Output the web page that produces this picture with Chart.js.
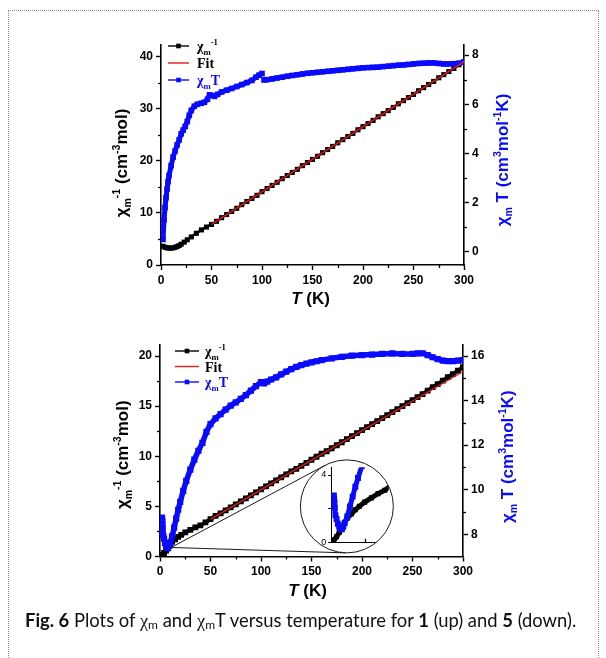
<!DOCTYPE html>
<html>
<head>
<meta charset="utf-8">
<script src="https://cdn.jsdelivr.net/npm/chart.js@4.4.1/dist/chart.umd.min.js"></script>
<style>
  html, body { margin: 0; padding: 0; background: #fff; }
  #page { position: relative; width: 606px; height: 658px; overflow: hidden; background: #fff; }
  #frame { position: absolute; left: 8px; top: 10px; width: 589px; height: 720px; border: 1px dotted #8a8a8a; }
  #c1 { position: absolute; left: 0; top: 0; }
  #c2 { position: absolute; left: 0; top: 310px; }
  #insetWrap { position: absolute; left: 300px; top: 459px; width: 93px; height: 93px; border-radius: 50%; overflow: hidden; }
  #cap { position: absolute; left: 25px; top: 609px; font-family: Lato, "Open Sans", sans-serif; font-size: 18.4px; color: #111; white-space: nowrap; }
  #cap .g { font-family: "Liberation Serif", "DejaVu Serif", serif; }
  #cap sub { font-size: 12px; vertical-align: -2px; }
</style>
</head>
<body>
<div id="page">
  <div id="frame"></div>
  <canvas id="c1" width="606" height="310"></canvas>
  <canvas id="c2" width="606" height="300"></canvas>
  <div id="insetWrap"><canvas id="c3" width="93" height="93"></canvas></div>
  <div id="cap"><b>Fig. 6</b> Plots of <span class="g">χ</span><sub>m</sub> and <span class="g">χ</span><sub>m</sub>T versus temperature for <b>1</b> (up) and <b>5</b> (down).</div>
</div>
<script>
// ---- data: complex 1 (upper plot) ----
const topInvT = [2,4,6,8,10,12,14,16,18,20,23,26,30,35,40,45,50,55,60,65,70,75,80,85,90,95,100,105,110,115,120,125,130,135,140,145,150,155,160,165,170,175,180,185,190,195,200,205,210,215,220,225,230,235,240,245,250,255,260,265,270,275,280,285,290,295,300];
const topInvChi = [3.6,3.4,3.3,3.25,3.25,3.3,3.4,3.55,3.75,4.0,4.4,4.85,5.4,6.1,6.75,7.3,7.8,8.4,9.1,9.7,10.3,10.9,11.6,12.2,12.8,13.4,14.1,14.7,15.3,15.9,16.6,17.2,17.8,18.4,19.1,19.7,20.3,20.9,21.6,22.2,22.8,23.5,24.1,24.7,25.3,26.0,26.6,27.2,27.8,28.5,29.1,29.7,30.3,31.0,31.6,32.2,32.8,33.5,34.1,34.7,35.3,36.0,36.6,37.2,37.8,38.5,39.1];
const topFitT = [50, 300];
const topFitVal = [7.8, 39.1];
const topChiTT = [2,3,4,5,6,7,8,10,12,14,16,18,20,22,24,26,28,30,33,36,40,43,46,48,50,53,56,60,65,70,75,80,85,90,94,97,100,101,102,105,110,115,120,125,130,135,140,145,150,155,160,165,170,175,180,185,190,195,200,205,210,215,220,225,230,235,240,245,250,255,260,265,270,275,280,285,290,295,300];
const topChiTVal = [0.5,1.3,1.8,2.2,2.55,2.85,3.1,3.5,3.85,4.1,4.35,4.55,4.8,4.95,5.1,5.3,5.55,5.75,5.92,6.0,6.04,6.08,6.2,6.38,6.36,6.32,6.4,6.5,6.57,6.64,6.72,6.8,6.88,6.97,7.1,7.18,7.25,null,6.99,7.0,7.03,7.07,7.1,7.14,7.17,7.2,7.23,7.26,7.28,7.3,7.32,7.34,7.36,7.38,7.4,7.42,7.44,7.46,7.48,7.49,7.5,7.51,7.53,7.55,7.57,7.59,7.6,7.62,7.64,7.66,7.67,7.68,7.68,7.66,7.64,7.64,7.65,7.67,7.72];

// ---- data: complex 5 (lower plot) ----
const botInvT = [2,4,6,8,10,12,15,18,21,25,30,35,40,45,50,55,60,65,70,75,80,85,90,95,100,105,110,115,120,125,130,135,140,145,150,155,160,165,170,175,180,185,190,195,200,205,210,215,220,225,230,235,240,245,250,255,260,265,270,275,280,285,290,295,300];
const botInvChi = [0.15,0.35,0.6,0.9,1.2,1.45,1.7,1.95,2.15,2.4,2.65,2.9,3.1,3.4,3.72,4.05,4.3,4.6,4.9,5.2,5.5,5.8,6.1,6.4,6.7,7.0,7.3,7.6,7.9,8.2,8.5,8.75,9.05,9.35,9.65,9.95,10.25,10.5,10.8,11.1,11.4,11.7,12.0,12.3,12.6,12.9,13.2,13.5,13.8,14.1,14.4,14.7,15.0,15.3,15.6,15.9,16.2,16.55,16.9,17.2,17.55,17.9,18.2,18.55,18.9];
const botFitT = [50, 300];
const botFitVal = [3.7, 18.45];
const botChiTT = [2,2.2,2.4,2.7,3.2,4,5,6,7,8,9,10,12,14,16,18,20,23,26,30,34,38,42,46,50,55,60,65,70,75,80,85,90,95,100,103,106,110,115,120,125,130,135,140,145,150,155,160,170,180,190,200,210,220,230,240,250,255,260,265,270,275,280,285,290,295,300];
const botChiTVal = [8.75,8.6,8.45,8.25,7.95,7.8,7.6,7.48,7.4,7.38,7.48,7.62,7.9,8.3,8.7,9.1,9.45,9.95,10.4,10.9,11.35,11.75,12.1,12.6,12.95,13.2,13.4,13.6,13.78,13.92,14.08,14.25,14.45,14.65,14.83,14.78,14.85,14.95,15.05,15.18,15.3,15.42,15.52,15.6,15.66,15.72,15.77,15.82,15.9,15.97,16.02,16.05,16.07,16.1,16.12,16.1,16.1,16.12,16.13,16.05,15.95,15.87,15.8,15.78,15.78,15.8,15.82];

// ---- ticks ----
const tTicks = [0, 50, 100, 150, 200, 250, 300];
const tMinor = [25, 75, 125, 175, 225, 275];
const topLeftTicks = [0, 10, 20, 30, 40];
const topLeftMinor = [5, 15, 25, 35];
const topRightTicks = [0, 2, 4, 6, 8];
const topRightMinor = [1, 3, 5, 7];
const botLeftTicks = [0, 5, 10, 15, 20];
const botLeftMinor = [2.5, 7.5, 12.5, 17.5];
const botRightTicks = [8, 10, 12, 14, 16];
const botRightMinor = [9, 11, 13, 15];
const insetLeftTicks = [0, 2, 4];
const insetTTicks = [25];
const insetTMax = 45;

const SANS = '"Liberation Sans", Arial, sans-serif';
const SERIF = '"Liberation Serif", "Times New Roman", serif';
const BLACK = '#000000';
const RED = '#e3191c';
const BLUE = '#0a0aff';

const invLabel = [['χ', 'n'], ['m', 'b'], ['-1', 'p']];
const fitLabel = [['Fit', 'n']];
const chiTLabel = [['χ', 'n'], ['m', 'b'], ['T', 'n']];
const leftTitle = [['χ', 'n'], ['m', 'b'], ['-1', 'p'], [' (cm', 'n'], ['-3', 'p'], ['mol)', 'n']];
const rightTitle = [['χ', 'n'], ['m', 'b'], [' T (cm', 'n'], ['3', 'p'], ['mol', 'n'], ['-1', 'p'], ['K)', 'n']];
const xTitle = [['T', 'i'], [' (K)', 'n']];

Chart.defaults.font.family = SANS;

const pts = (xs, ys) => xs.map((x, i) => ({ x, y: ys[i] }));

// text with sub/superscripts, centred on (x, y)
function drawRich(ctx, parts, x, y, fs, family, color, angle) {
  ctx.save();
  ctx.translate(x, y);
  if (angle) ctx.rotate(angle);
  const segs = parts.map(([t, m]) => {
    const size = (m === 'b' || m === 'p') ? fs * 0.62 : fs;
    const font = (m === 'i' ? 'italic ' : '') + 'bold ' + size + 'px ' + family;
    ctx.font = font;
    return { t, m, font, w: ctx.measureText(t).width };
  });
  const total = segs.reduce((s, g) => s + g.w, 0);
  let cx = -total / 2;
  ctx.fillStyle = color;
  ctx.textAlign = 'left';
  ctx.textBaseline = 'alphabetic';
  segs.forEach(g => {
    ctx.font = g.font;
    const dy = g.m === 'b' ? fs * 0.25 : g.m === 'p' ? -fs * 0.42 : 0;
    ctx.fillText(g.t, cx, fs * 0.36 + dy);
    cx += g.w;
  });
  ctx.restore();
}

function drawRichLeft(ctx, parts, x, y, fs, family, color) {
  ctx.save();
  let w = 0;
  parts.forEach(([t, m]) => {
    ctx.font = 'bold ' + ((m === 'b' || m === 'p') ? fs * 0.62 : fs) + 'px ' + family;
    w += ctx.measureText(t).width;
  });
  ctx.restore();
  drawRich(ctx, parts, x + w / 2, y, fs, family, color, 0);
}

const deco = {
  id: 'deco',
  afterDraw(chart, args, o) {
    const ctx = chart.ctx;
    const a = chart.chartArea;
    ctx.save();
    ctx.strokeStyle = '#000';
    ctx.lineWidth = 1.3;
    (o.minor || []).forEach(([id, vals, len]) => {
      const s = chart.scales[id];
      vals.forEach(v => {
        const p = Math.round(s.getPixelForValue(v)) + 0.5;
        ctx.beginPath();
        if (s.position === 'bottom') { ctx.moveTo(p, a.bottom); ctx.lineTo(p, a.bottom + len); }
        else if (s.position === 'left') { ctx.moveTo(a.left, p); ctx.lineTo(a.left - len, p); }
        else { ctx.moveTo(a.right, p); ctx.lineTo(a.right + len, p); }
        ctx.stroke();
      });
    });
    ctx.restore();

    const midY = (a.top + a.bottom) / 2;
    if (o.leftTitle) drawRich(ctx, leftTitle, a.left - o.leftTitle.dx, midY + o.leftTitle.dy, o.titleSize, SANS, BLACK, -Math.PI / 2);
    if (o.rightTitle) drawRich(ctx, rightTitle, a.right + o.rightTitle.dx, midY + o.rightTitle.dy, o.titleSize, SANS, BLUE, -Math.PI / 2);
    if (o.xTitle) drawRich(ctx, xTitle, (a.left + a.right) / 2 + o.xTitle.dx, a.bottom + o.xTitle.dy, o.titleSize, SANS, BLACK, 0);

    if (o.legend) {
      const L = o.legend;
      L.items.forEach((it, i) => {
        const y = a.top + L.dy + i * L.gap;
        const x0 = a.left + L.dx;
        ctx.save();
        ctx.strokeStyle = it.line;
        ctx.lineWidth = 1.4;
        ctx.beginPath();
        ctx.moveTo(x0, y);
        ctx.lineTo(x0 + L.len, y);
        ctx.stroke();
        if (it.marker) {
          ctx.fillStyle = it.line;
          ctx.fillRect(x0 + L.len / 2 - 2.3, y - 2.3, 4.6, 4.6);
        }
        ctx.restore();
        drawRichLeft(ctx, it.parts, x0 + L.textDx, y, L.fs, SERIF, it.text);
      });
    }

    if (o.inset) {
      const I = o.inset;
      const sx = chart.scales.x, sy = chart.scales.y;
      const cx = sx.getPixelForValue(I.t), cy = sy.getPixelForValue(I.v);
      const px = sx.getPixelForValue(I.fromT), py = sy.getPixelForValue(I.fromV);
      ctx.save();
      ctx.strokeStyle = '#1a1a1a';
      ctx.lineWidth = 1;
      ctx.beginPath();
      ctx.arc(cx, cy, I.r, 0, Math.PI * 2);
      ctx.stroke();
      const dx = cx - px, dy = cy - py, d = Math.hypot(dx, dy);
      const base = Math.atan2(dy, dx), al = Math.asin(I.r / d), len = Math.sqrt(d * d - I.r * I.r);
      [-1, 1].forEach(sg => {
        const ang = base + sg * al;
        ctx.beginPath();
        ctx.moveTo(px, py);
        ctx.lineTo(px + len * Math.cos(ang), py + len * Math.sin(ang));
        ctx.stroke();
      });
      ctx.restore();
      const wrap = document.getElementById('insetWrap');
      wrap.style.left = (chart.canvas.offsetLeft + cx - I.r) + 'px';
      wrap.style.top = (chart.canvas.offsetTop + cy - I.r) + 'px';
    }
  }
};

function axis(position, min, max, majors, size, extra) {
  return Object.assign({
    type: 'linear',
    position,
    min,
    max,
    afterBuildTicks: s => { s.ticks = majors.map(v => ({ value: v })); },
    afterFit: s => { if (position === 'bottom') s.height = size; else s.width = size; },
    grid: { drawOnChartArea: false, drawTicks: true, tickLength: 5, tickWidth: 1.4, tickColor: '#000' },
    border: { display: true, color: '#000', width: 1.6 },
    ticks: { color: '#000', font: { family: SANS, weight: 'bold', size: 12 }, padding: 3, maxRotation: 0, autoSkip: false }
  }, extra || {});
}

function series(data, color, yAxisID, radius, width, order) {
  return {
    data, yAxisID, order,
    showLine: true,
    borderColor: color,
    backgroundColor: color,
    borderWidth: width,
    pointStyle: 'rect',
    pointRadius: radius,
    pointBorderWidth: 0,
    tension: 0,
    spanGaps: false
  };
}

function fitLine(data) {
  return { data, yAxisID: 'y', order: 0, showLine: true, borderColor: RED, borderWidth: 1.4, pointRadius: 0, tension: 0 };
}

const legendItems = [
  { parts: invLabel, line: BLACK, text: BLACK, marker: true },
  { parts: fitLabel, line: RED, text: BLACK, marker: false },
  { parts: chiTLabel, line: BLUE, text: BLUE, marker: true }
];

const common = {
  responsive: false,
  animation: false,
  events: [],
  plugins: { legend: { display: false }, tooltip: { enabled: false } }
};

// upper chart
new Chart(document.getElementById('c1'), {
  type: 'scatter',
  data: {
    datasets: [
      fitLine(pts(topFitT, topFitVal)),
      series(pts(topChiTT, topChiTVal), BLUE, 'y1', 4, 5, 1),
      series(pts(topInvT, topInvChi), BLACK, 'y', 3.6, 2.5, 2)
    ]
  },
  options: Object.assign({}, common, {
    layout: { padding: { top: 45, left: 0, right: 0, bottom: 0 } },
    plugins: Object.assign({}, common.plugins, {
      deco: {
        minor: [['x', tMinor, 3], ['y', topLeftMinor, 3], ['y1', topRightMinor, 3]],
        titleSize: 17,
        leftTitle: { dx: 40, dy: 8 },
        rightTitle: { dx: 38, dy: 5 },
        xTitle: { dx: -2, dy: 33 },
        legend: { dx: 7, dy: 1, gap: 17, len: 21, textDx: 29, fs: 14, items: legendItems }
      }
    }),
    scales: {
      x: axis('bottom', 0, 300, tTicks, 45),
      y: axis('left', 0, 42.3, topLeftTicks, 161),
      y1: axis('right', -0.54, 8.41, topRightTicks, 142)
    }
  }),
  plugins: [deco]
});

// lower chart
new Chart(document.getElementById('c2'), {
  type: 'scatter',
  data: {
    datasets: [
      fitLine(pts(botFitT, botFitVal)),
      series(pts(botChiTT, botChiTVal), BLUE, 'y1', 4.4, 5.5, 1),
      series(pts(botInvT, botInvChi), BLACK, 'y', 4.1, 4, 2)
    ]
  },
  options: Object.assign({}, common, {
    layout: { padding: { top: 35, left: 0, right: 0, bottom: 0 } },
    plugins: Object.assign({}, common.plugins, {
      deco: {
        minor: [['x', tMinor, 3], ['y', botLeftMinor, 3], ['y1', botRightMinor, 3]],
        titleSize: 17,
        leftTitle: { dx: 38, dy: 4 },
        rightTitle: { dx: 44, dy: 6 },
        xTitle: { dx: -4, dy: 33.5 },
        legend: { dx: 15, dy: 6, gap: 15.5, len: 24, textDx: 30, fs: 14, items: legendItems },
        inset: { t: 185, v: 5.0, r: 46.5, fromT: 11, fromV: 0.9 }
      }
    }),
    scales: {
      x: axis('bottom', 0, 300, tTicks, 53.5),
      y: axis('left', 0, 21.1, botLeftTicks, 160),
      y1: axis('right', 7.0, 16.5, botRightTicks, 143)
    }
  }),
  plugins: [deco]
});

// magnified low-temperature inset of the lower chart
new Chart(document.getElementById('c3'), {
  type: 'scatter',
  data: {
    datasets: [
      series(pts(botChiTT, botChiTVal).filter(p => p.x <= insetTMax), BLUE, 'y1', 4.2, 5, 1),
      series(pts(botInvT, botInvChi).filter(p => p.x <= insetTMax), BLACK, 'y', 3.6, 5, 2)
    ]
  },
  options: Object.assign({}, common, {
    layout: { padding: { top: 7, left: 0, right: 0, bottom: 0 } },
    plugins: Object.assign({}, common.plugins, {
      deco: { minor: [['x', insetTTicks, -4]] }
    }),
    scales: {
      x: axis('bottom', 0, 43, [0], 10.3, {
        grid: { drawOnChartArea: false, drawTicks: false },
        border: { display: true, color: '#000', width: 1 },
        ticks: { display: false }
      }),
      y: axis('left', 0, 4.45, insetLeftTicks, 31.2, {
        grid: { drawOnChartArea: false, drawTicks: true, tickLength: 3, tickWidth: 1, tickColor: '#000' },
        border: { display: true, color: '#000', width: 1 },
        ticks: { color: '#000', font: { family: SANS, size: 9 }, padding: 2, callback: v => (v === 2 ? '' : v) }
      }),
      y1: { type: 'linear', display: false, min: 6.84, max: 9.88 }
    }
  }),
  plugins: [deco]
});
</script>
</body>
</html>
